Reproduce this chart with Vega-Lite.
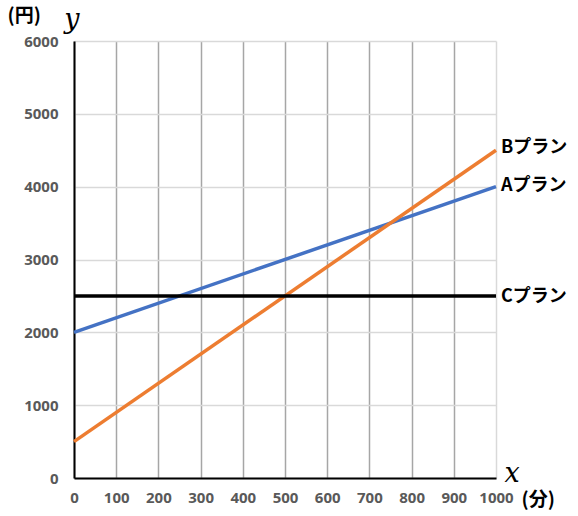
{
  "$schema": "https://vega.github.io/schema/vega-lite/v6.json",
  "width": 422,
  "height": 437,
  "autosize": {"type": "none"},
  "padding": {"left": 74, "top": 41, "right": 82, "bottom": 38},
  "background": "white",
  "config": {"view": {"stroke": null}},
  "datasets": {
    "lines": [
      {"plan": "A", "x": 0, "y": 2000},
      {"plan": "A", "x": 1000, "y": 4000},
      {"plan": "B", "x": 0, "y": 500},
      {"plan": "B", "x": 1000, "y": 4500},
      {"plan": "C", "x": 0, "y": 2500},
      {"plan": "C", "x": 1000, "y": 2500}
    ],
    "labels": [
      {"text": "Bプラン", "x": 1012, "y": 4530},
      {"text": "Aプラン", "x": 1012, "y": 4010},
      {"text": "Cプラン", "x": 1012, "y": 2490}
    ],
    "units": [
      {"text": "(円)", "x": -118, "y": 6340},
      {"text": "(分)", "x": 1100, "y": -300}
    ],
    "vars": [
      {"text": "y", "x": -5, "y": 6180},
      {"text": "x", "x": 1038, "y": -55}
    ]
  },
  "layer": [
    {
      "data": {"name": "lines"},
      "mark": {"type": "line", "strokeWidth": 3.5, "clip": false},
      "encoding": {
        "x": {
          "field": "x", "type": "quantitative",
          "scale": {"domain": [0, 1000], "nice": false, "zero": false},
          "axis": {
            "values": [0, 100, 200, 300, 400, 500, 600, 700, 800, 900, 1000],
            "format": "d",
            "title": null,
            "ticks": false,
            "domainColor": "black",
            "domainWidth": 2,
            "gridColor": {"condition": {"test": "datum.value == 1000", "value": "#d9d9d9"}, "value": "#a6a6a6"},
            "gridWidth": 1.5,
            "labelFont": "Noto Sans",
            "labelFontWeight": "bold",
            "labelFontSize": 15,
            "labelColor": "#595959",
            "labelPadding": 12,
            "labelFlush": false,
            "labelOverlap": false
          }
        },
        "y": {
          "field": "y", "type": "quantitative",
          "scale": {"domain": [0, 6000], "nice": false, "zero": false},
          "axis": {
            "values": [0, 500, 1000, 1500, 2000, 2500, 3000, 3500, 4000, 4500, 5000, 5500, 6000],
            "labelExpr": "datum.value % 1000 == 0 ? datum.label : ''",
            "format": "d",
            "title": null,
            "ticks": false,
            "domainColor": "black",
            "domainWidth": 2,
            "gridColor": "#d9d9d9",
            "gridWidth": 1.5,
            "labelFont": "Noto Sans",
            "labelFontWeight": "bold",
            "labelFontSize": 15,
            "labelColor": "#595959",
            "labelPadding": 16,
            "labelFlush": false,
            "labelOverlap": false
          }
        },
        "color": {
          "field": "plan", "type": "nominal",
          "scale": {"domain": ["A", "B", "C"], "range": ["#4472C4", "#ED7D31", "#000000"]},
          "legend": null
        },
        "order": {"field": "x", "type": "quantitative"}
      }
    },
    {
      "data": {"name": "labels"},
      "mark": {"type": "text", "align": "left", "baseline": "middle", "font": "Noto Sans CJK JP", "fontWeight": "bold", "fontSize": 18, "color": "black", "clip": false},
      "encoding": {
        "x": {"field": "x", "type": "quantitative"},
        "y": {"field": "y", "type": "quantitative"},
        "text": {"field": "text"}
      }
    },
    {
      "data": {"name": "units"},
      "mark": {"type": "text", "align": "center", "baseline": "middle", "font": "Noto Sans CJK JP", "fontWeight": "bold", "fontSize": 19, "color": "black", "clip": false},
      "encoding": {
        "x": {"field": "x", "type": "quantitative"},
        "y": {"field": "y", "type": "quantitative"},
        "text": {"field": "text"}
      }
    },
    {
      "data": {"name": "vars"},
      "mark": {"type": "text", "align": "center", "baseline": "alphabetic", "font": "DejaVu Serif", "fontStyle": "italic", "fontSize": 27, "color": "black", "clip": false},
      "encoding": {
        "x": {"field": "x", "type": "quantitative"},
        "y": {"field": "y", "type": "quantitative"},
        "text": {"field": "text"}
      }
    }
  ]
}
